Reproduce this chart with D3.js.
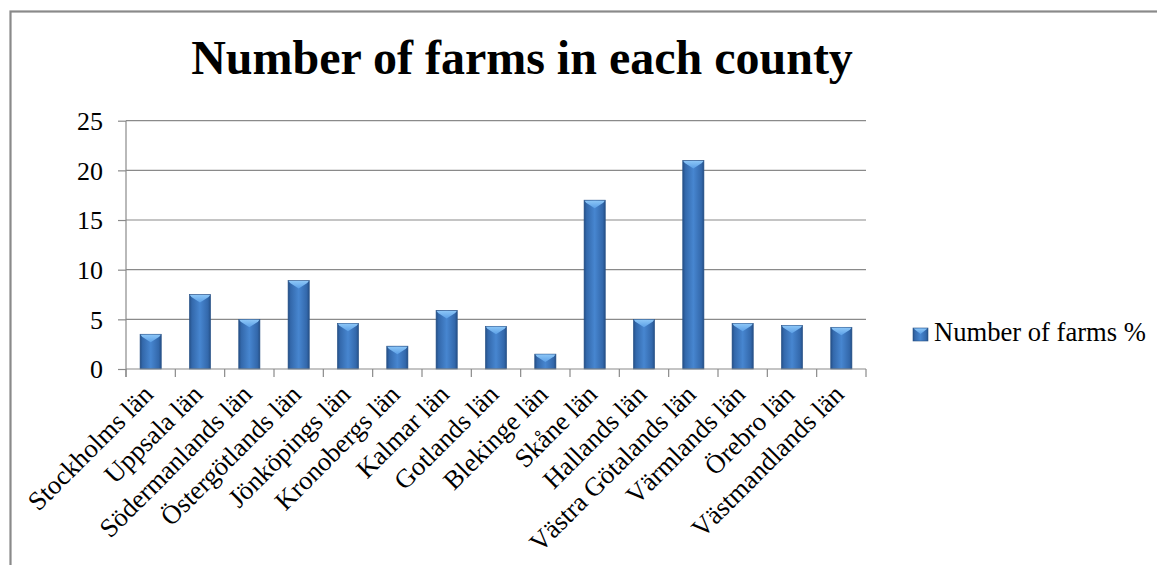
<!DOCTYPE html>
<html><head><meta charset="utf-8">
<script src="https://cdn.jsdelivr.net/npm/d3@7"></script>
<style>body{margin:0;background:#fff}svg{display:block}</style>
</head><body>
<svg id="c" width="1157" height="565"></svg>
<script>
const categories = ["Stockholms län","Uppsala län","Södermanlands län","Östergötlands län","Jönköpings län","Kronobergs län","Kalmar län","Gotlands län","Blekinge län","Skåne län","Hallands län","Västra Götalands län","Värmlands län","Örebro län","Västmandlands län"];
const values = [3.5,7.5,5.0,8.9,4.6,2.3,5.9,4.3,1.5,17.0,5.0,21.0,4.6,4.4,4.2];
const yTicks = [0,5,10,15,20,25];
const seriesName = "Number of farms %";
const title = "Number of farms in each county";

const svg = d3.select("#c");
const font = "'Liberation Serif','Times New Roman',serif";
const L = 126, R = 866, T = 120.7, B = 369;

// frame
svg.append("rect").attr("x",10.5).attr("y",11.5).attr("width",1200).attr("height",600)
  .attr("fill","#fff").attr("stroke","#8a8a8a").attr("stroke-width",2.2);

const defs = svg.append("defs");
const g1 = defs.append("linearGradient").attr("id","barg").attr("x1","0").attr("x2","1").attr("y1","0").attr("y2","0");
[[0,"#244f86"],[0.12,"#3368ab"],[0.5,"#4786d0"],[0.88,"#3368ab"],[1,"#244f86"]].forEach(([o,c])=>g1.append("stop").attr("offset",o).attr("stop-color",c));
const g2 = defs.append("linearGradient").attr("id","capg").attr("x1","0").attr("x2","0").attr("y1","0").attr("y2","1");
[[0,"#8cc6f7"],[1,"#5b9fe6"]].forEach(([o,c])=>g2.append("stop").attr("offset",o).attr("stop-color",c));

const x = d3.scaleBand().domain(categories).range([L,R]).padding(0);
const y = d3.scaleLinear().domain([0,25]).range([B,T]);
const bw = x.bandwidth()*0.43;

// gridlines
svg.append("g").selectAll("line").data(yTicks.filter(t=>t>0)).join("line")
  .attr("x1",L).attr("x2",R).attr("y1",d=>y(d)).attr("y2",d=>y(d))
  .attr("stroke","#8a8a8a").attr("stroke-width",1.2);

// y axis
const ya = svg.append("g").attr("transform",`translate(${L},0)`)
  .call(d3.axisLeft(y).tickValues(yTicks).tickSize(8).tickPadding(15));
ya.select(".domain").remove();
ya.selectAll(".tick line").attr("stroke","#8a8a8a").attr("stroke-width",1.2);
ya.selectAll(".tick text").attr("font-family",font).attr("font-size",26).attr("fill","#000").attr("dy","0.34em");
svg.append("line").attr("x1",L).attr("x2",L).attr("y1",T).attr("y2",B+8).attr("stroke","#8a8a8a").attr("stroke-width",1.2);

// bars
const bars = svg.append("g").selectAll("g").data(categories).join("g");
bars.append("rect")
  .attr("x",d=>x(d)+(x.bandwidth()-bw)/2).attr("width",bw)
  .attr("y",(d,i)=>y(values[i])).attr("height",(d,i)=>B-y(values[i]))
  .attr("fill","url(#barg)").attr("stroke","#2a5488").attr("stroke-width",0.6);
bars.append("polygon").attr("points",(d,i)=>{
  const x0 = x(d)+(x.bandwidth()-bw)/2, y0 = y(values[i]);
  return [[x0+0.5,y0+0.5],[x0+bw-0.5,y0+0.5],[x0+bw-2,y0+2.5],[x0+bw/2,y0+8],[x0+2,y0+2.5]].map(p=>p.join(",")).join(" ");
}).attr("fill","url(#capg)");

// x axis
svg.append("line").attr("x1",L).attr("x2",R).attr("y1",B).attr("y2",B).attr("stroke","#8a8a8a").attr("stroke-width",1.2);
const bounds = categories.map(c=>x(c)).concat([R]);
svg.append("g").selectAll("line").data(bounds).join("line")
  .attr("x1",d=>d).attr("x2",d=>d).attr("y1",B).attr("y2",B+8)
  .attr("stroke","#8a8a8a").attr("stroke-width",1.2);
svg.append("g").selectAll("text").data(categories).join("text")
  .attr("transform",d=>`translate(${x(d)+x.bandwidth()/2+4},${B+27}) rotate(-45)`)
  .attr("text-anchor","end").attr("font-family",font).attr("font-size",26.5).attr("fill","#000")
  .text(d=>d);

// title
svg.append("text").attr("x",522).attr("y",74).attr("text-anchor","middle")
  .attr("font-family",font).attr("font-weight","bold").attr("font-size",48).attr("fill","#000").text(title);

// legend
const lg = svg.append("g");
lg.append("rect").attr("x",913).attr("y",328).attr("width",15).attr("height",13).attr("fill","url(#barg)").attr("stroke","#2a5488").attr("stroke-width",0.6);
lg.append("polygon").attr("points","913.5,328.5 927.5,328.5 920.5,334").attr("fill","url(#capg)");
lg.append("text").attr("x",934).attr("y",341).attr("font-family",font).attr("font-size",26.6).attr("fill","#000").text(seriesName);
</script>
</body></html>
